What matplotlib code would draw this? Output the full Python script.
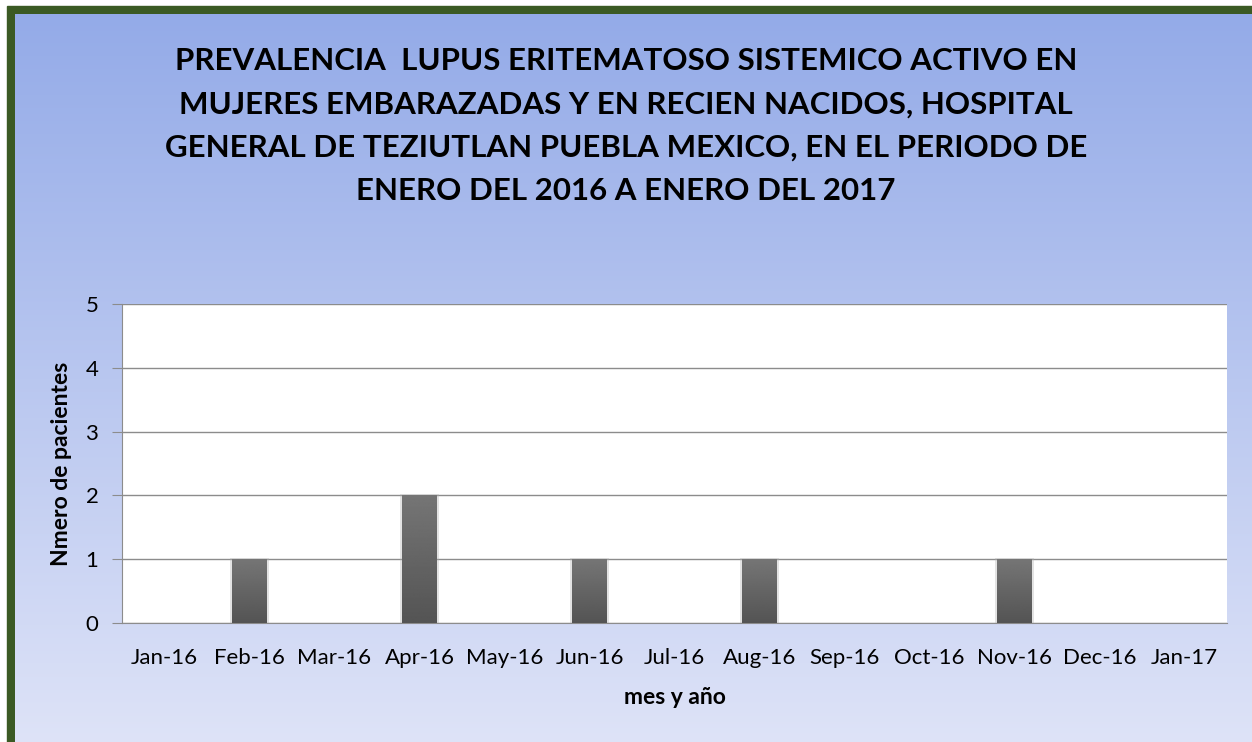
import numpy as np
import matplotlib
matplotlib.use("Agg")
import matplotlib.pyplot as plt
from matplotlib.patches import Rectangle

months = ["Jan-16", "Feb-16", "Mar-16", "Apr-16", "May-16", "Jun-16", "Jul-16",
          "Aug-16", "Sep-16", "Oct-16", "Nov-16", "Dec-16", "Jan-17"]
pacientes = [0, 1, 0, 2, 0, 1, 0, 1, 0, 0, 1, 0, 0]
y_ticks = [0, 1, 2, 3, 4, 5]

title = ("PREVALENCIA  LUPUS ERITEMATOSO SISTEMICO ACTIVO EN\n"
         "MUJERES EMBARAZADAS Y EN RECIEN NACIDOS, HOSPITAL\n"
         "GENERAL DE TEZIUTLAN PUEBLA MEXICO, EN EL PERIODO DE\n"
         "ENERO DEL 2016 A ENERO DEL 2017")

plt.rcParams["font.family"] = ["Lato", "DejaVu Sans"]

W, H = 1252, 742
fig = plt.figure(figsize=(W / 100, H / 100), dpi=100)

# background gradient + green frame
bg = fig.add_axes([0, 0, 1, 1], zorder=0)
top = np.array([0.58, 0.67, 0.91])
bot = np.array([0.87, 0.89, 0.97])
t = np.linspace(0, 1, 256)[:, None]
grad = top + (bot - top) * t
bg.add_patch(Rectangle((0, 0), W, H, color="white", zorder=0.5))
bg.add_patch(Rectangle((7, 6), W, H, color="#3b5a24", zorder=0.6))
bg.imshow(grad[:, None, :].repeat(2, axis=1), aspect="auto",
          extent=[15, W, H, 14], zorder=0.7)
bg.set_xlim(0, W)
bg.set_ylim(H, 0)
bg.axis("off")

fig.text(626 / W, 1 - 126 / H, title, ha="center", va="center",
         fontsize=22.5, fontweight="bold", linespacing=1.68)

# plot area
ax = fig.add_axes([122 / W, 1 - 623 / H, 1105 / W, 319 / H], zorder=1)
ax.set_facecolor("white")
x = np.arange(len(months))
bw = 0.41
shade = np.linspace(0.46, 0.33, 100)[:, None]
for xi, v in zip(x, pacientes):
    if v <= 0:
        continue
    # soft shadow
    ax.add_patch(Rectangle((xi - bw / 2 - 0.025, 0), bw + 0.05, v + 0.025,
                           color="#b0b0b0", alpha=0.35, zorder=2, lw=0))
    ax.imshow(shade, cmap="gray", vmin=0, vmax=1, aspect="auto",
              extent=[xi - bw / 2, xi + bw / 2, 0, v], zorder=3)
ax.set_xlim(-0.5, len(months) - 0.5)
ax.set_ylim(0, 5)
ax.set_yticks(y_ticks)
ax.set_xticks(x)
ax.set_xticklabels(months)
ax.yaxis.grid(True, color="#8c8c8c", lw=1)
ax.set_axisbelow(True)
for s in ["top", "right"]:
    ax.spines[s].set_visible(False)
ax.spines["left"].set_color("#8c8c8c")
ax.spines["bottom"].set_color("#8c8c8c")
ax.tick_params(axis="y", length=7, color="#8c8c8c", labelsize=16, pad=10)
ax.tick_params(axis="x", length=0, labelsize=16, pad=18)
ax.set_ylabel("Nmero de pacientes", fontsize=16.5, fontweight="bold", labelpad=10)
ax.set_xlabel("mes y año", fontsize=16.5, fontweight="bold", labelpad=14)

fig.savefig("out.png", dpi=100)
